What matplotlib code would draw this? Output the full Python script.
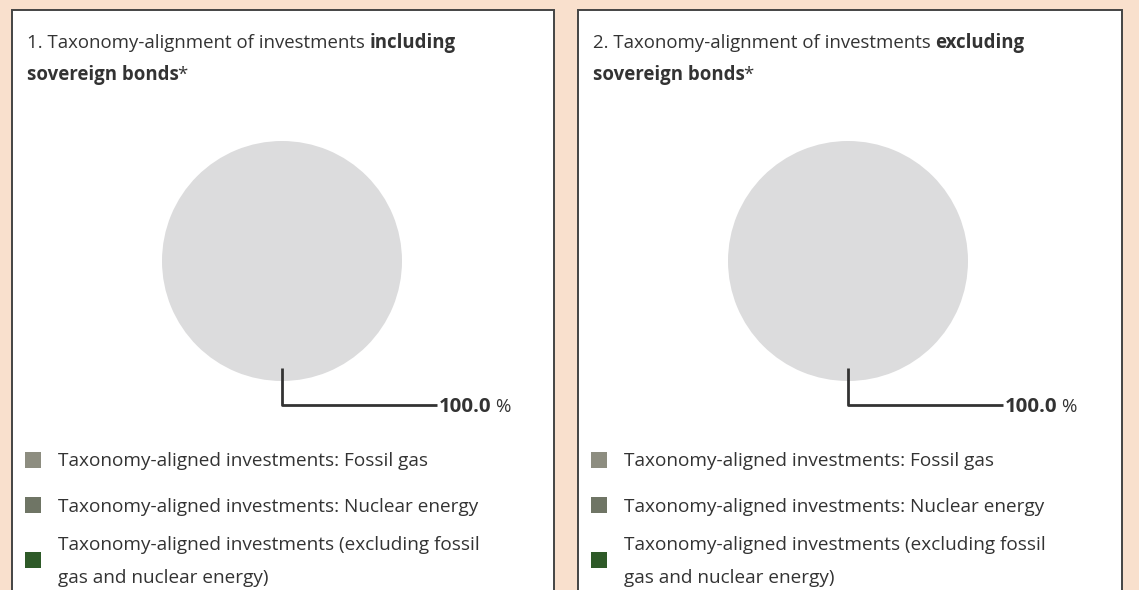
import numpy as np
import matplotlib.pyplot as plt
from matplotlib.patches import Rectangle

# data
categories = [
    "Taxonomy-aligned investments: Fossil gas",
    "Taxonomy-aligned investments: Nuclear energy",
    "Taxonomy-aligned investments (excluding fossil\ngas and nuclear energy)",
    "Other investments",
]
incl_sovereign = [0.0, 0.0, 0.0, 100.0]
excl_sovereign = [0.0, 0.0, 0.0, 100.0]
colors = ["#8d8d80", "#6f7565", "#2e5a28", "#dcdcdd"]
titles = [
    ("1. Taxonomy-alignment of investments ", "including", "sovereign bonds"),
    ("2. Taxonomy-alignment of investments ", "excluding", "sovereign bonds"),
]

W, H = 1139, 590
bg = "#f9e0cd"
txt = "#333333"
font = "Open Sans"
fs = 13.4
fs_leg = 13.7

fig = plt.figure(figsize=(W / 100, H / 100), dpi=100, facecolor=bg)
ax = fig.add_axes([0, 0, 1, 1])
ax.set_facecolor(bg)
renderer = fig.canvas.get_renderer()

panels = [(12, 542), (578, 544)]
series = [incl_sovereign, excl_sovereign]

# pies first (ax.pie resets the limits)
pie_info = []
for (px, pw), vals in zip(panels, series):
    cx, cy, r = px + 270, 261, 120
    wedges, _ = ax.pie(vals, colors=colors, radius=r, center=(cx, cy),
                       startangle=90, counterclock=False,
                       wedgeprops=dict(linewidth=0))
    for w in wedges:
        w.set_zorder(2)
    pie_info.append((cx, cy, r, wedges))

ax.set_xlim(0, W)
ax.set_ylim(H, 0)
ax.set_aspect("auto")
ax.axis("off")


def right_edge(t):
    bb = t.get_window_extent(renderer).transformed(ax.transData.inverted())
    return max(bb.x0, bb.x1)


for (px, pw), vals, (t1, tb, t2), (cx, cy, r, wedges) in zip(
        panels, series, titles, pie_info):
    ax.add_patch(Rectangle((px, 10), pw, 600, facecolor="white",
                           edgecolor="#444444", lw=1.4, zorder=1))

    # title with bold part
    t = ax.text(px + 15, 48, t1, fontsize=fs, family=font, color=txt,
                va="baseline", ha="left", zorder=3)
    ax.text(right_edge(t), 48, tb, fontsize=fs, family=font,
            fontweight="bold", color=txt, va="baseline", ha="left", zorder=3)
    t3 = ax.text(px + 15, 80, t2, fontsize=fs, family=font,
                 fontweight="bold", color=txt, va="baseline", ha="left", zorder=3)
    ax.text(right_edge(t3) - 2, 80, "*", fontsize=fs, family=font,
            color=txt, va="baseline", ha="left", zorder=3)

    # leader line and value label
    for w, v in zip(wedges, vals):
        if v <= 0:
            continue
        ang = np.deg2rad((w.theta1 + w.theta2) / 2)
        x0 = cx + 0.89 * r * np.cos(ang)
        y0 = cy - 0.89 * r * np.sin(ang)
        ax.plot([x0, x0, x0 + 155], [y0, 405, 405], color="#333333",
                lw=2, zorder=3, solid_capstyle="butt")
        lab = ax.text(x0 + 157, 412, f"{v:.1f}", fontsize=14.7, family=font,
                      fontweight="bold", color=txt, va="baseline", ha="left",
                      zorder=3)
        ax.text(right_edge(lab) + 4, 412, "%", fontsize=13.5, family=font,
                color=txt, va="baseline", ha="left", zorder=3)

    # legend
    ys = [460, 505, 560]
    for c, lab, y in zip(colors[:3], categories[:3], ys):
        ax.add_patch(Rectangle((px + 13, y - 8), 16, 16, facecolor=c,
                               edgecolor="none", zorder=3))
        lines = lab.split("\n")
        base = y + 6.5 - (len(lines) - 1) * 16.5
        for i, line in enumerate(lines):
            ax.text(px + 46, base + i * 33, line, fontsize=fs_leg, family=font,
                    color=txt, va="baseline", ha="left", zorder=3)

fig.savefig("out.png", dpi=100, facecolor=bg)
